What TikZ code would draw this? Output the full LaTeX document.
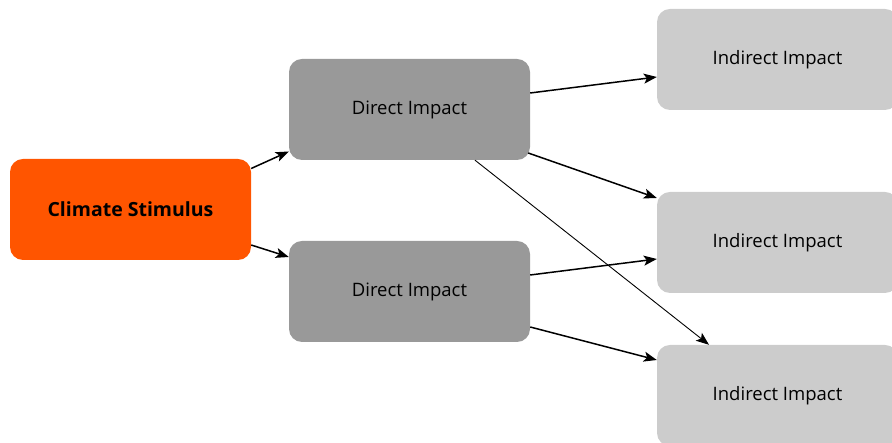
\documentclass[tikz,border=0pt]{standalone}
\usepackage{fontspec}
\setmainfont{Open Sans}
\usetikzlibrary{arrows.meta}
\definecolor{stim}{HTML}{FF5500}
\definecolor{direct}{HTML}{999999}
\definecolor{indirect}{HTML}{CCCCCC}
\tikzset{
  box/.style={rectangle, rounded corners=13pt, minimum width=241pt, minimum height=101pt, inner sep=0pt, font=\fontsize{18.5}{22}\selectfont},
  stimbox/.style={box, fill=stim, font=\fontsize{19.5}{23}\selectfont\bfseries},
  directbox/.style={box, fill=direct},
  indirectbox/.style={box, fill=indirect},
  conn/.style={-{Stealth[length=13pt,width=10pt,inset=3pt]}, line width=1.5pt, black},
  thinconn/.style={-{Stealth[length=13pt,width=10pt,inset=3pt]}, line width=0.9pt, black}
}
\begin{document}
\begin{tikzpicture}[x=1pt,y=1pt]
\useasboundingbox (0,0) rectangle (892,443);
\node[stimbox] (cs) at (130.5,233.5) {Climate Stimulus};
\node[directbox] (d1) at (409.5,333.5) {Direct Impact};
\node[directbox] (d2) at (409.5,151.5) {Direct Impact};
\node[indirectbox] (i1) at (777.5,383.5) {Indirect Impact};
\node[indirectbox] (i2) at (777.5,200.5) {Indirect Impact};
\node[indirectbox] (i3) at (777.5,47.5) {Indirect Impact};
\draw[conn] ([yshift=41pt]cs.east) -- ([yshift=-42pt]d1.west);
\draw[conn] ([yshift=-35.5pt]cs.east) -- ([yshift=34.5pt]d2.west);
\draw[conn] ([yshift=16.5pt]d1.east) -- ([yshift=-17.5pt]i1.west);
\draw[conn] ([xshift=-2pt,yshift=-43.5pt]d1.east) -- ([yshift=44.5pt]i2.west);
\draw[thinconn] ([xshift=65.5pt]d1.south) -- ([xshift=-68.5pt]i3.north);
\draw[conn] ([yshift=16.5pt]d2.east) -- ([yshift=-16.5pt]i2.west);
\draw[conn] ([yshift=-35.5pt]d2.east) -- ([yshift=35.5pt]i3.west);
\end{tikzpicture}
\end{document}
